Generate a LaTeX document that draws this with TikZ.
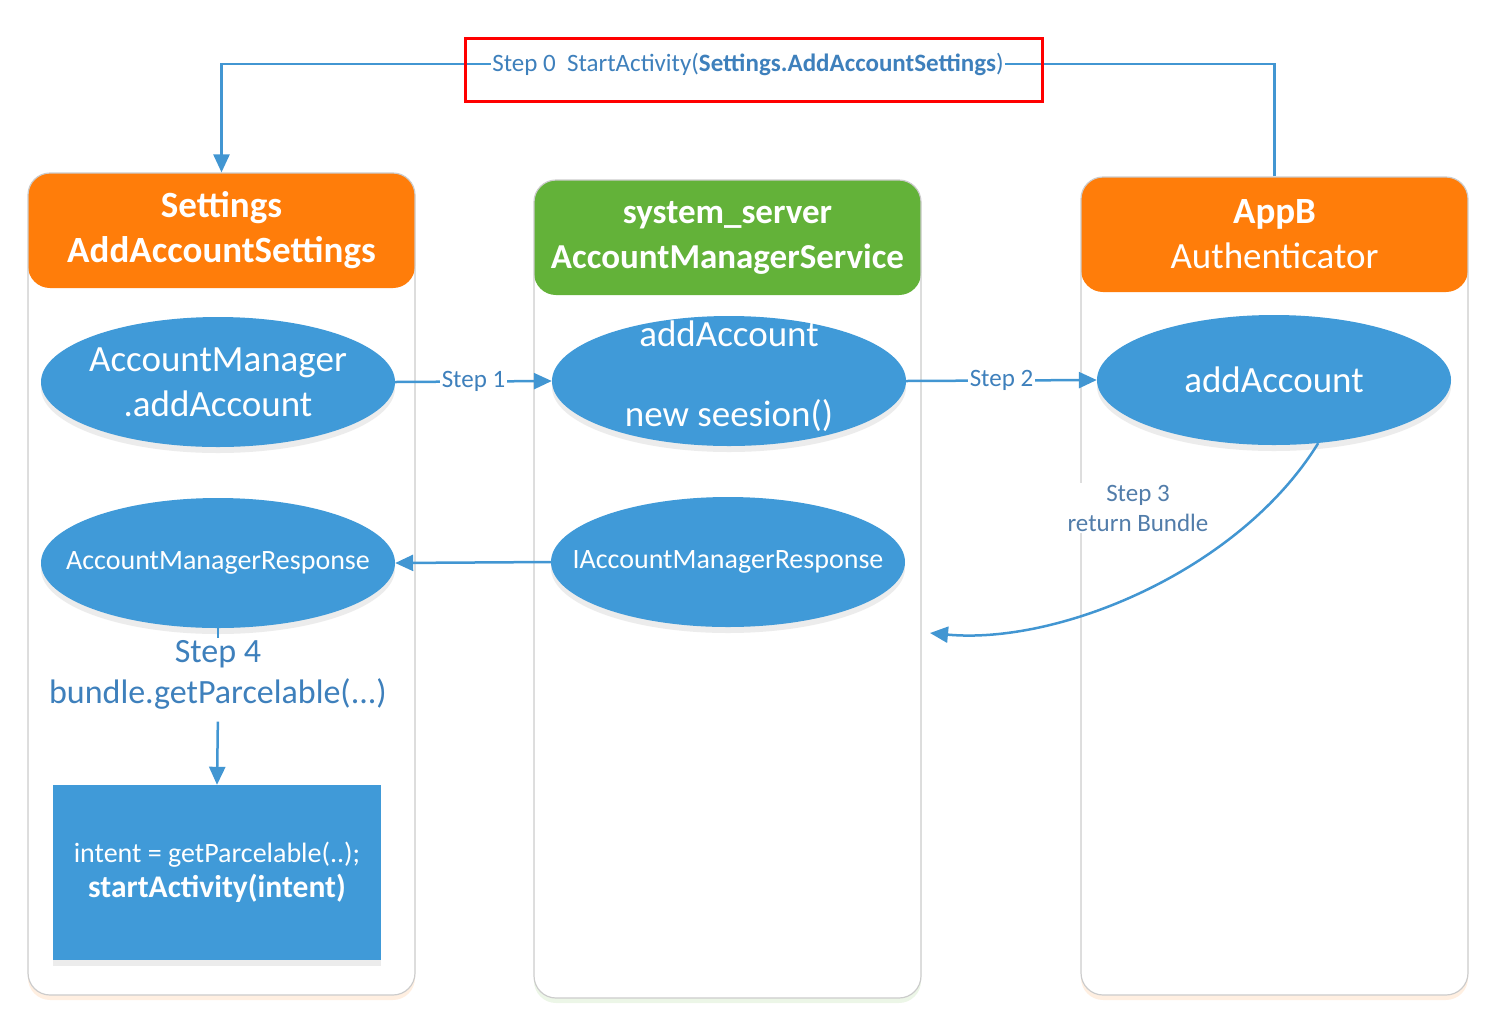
\documentclass[tikz,border=0pt]{standalone}
\usepackage{fontspec}
\setmainfont{Carlito}
\usetikzlibrary{arrows.meta,shapes.geometric,shadows}
\definecolor{hdrorange}{RGB}{255,125,10}
\definecolor{hdrgreen}{RGB}{99,178,57}
\definecolor{ovalblue}{RGB}{64,154,216}
\definecolor{lineblue}{RGB}{66,150,210}
\definecolor{steptext}{RGB}{62,128,188}
\definecolor{notetext}{RGB}{82,125,170}

\begin{document}
\begin{tikzpicture}[x=1pt,y=-1pt,
  panel/.style={draw=gray!40,line width=1.2pt,fill=white,rounded corners=22pt,
    minimum width=387pt,inner sep=0pt,
    drop shadow={shadow xshift=0pt,shadow yshift=-5pt,opacity=.3,fill=#1!40},
    path picture={\fill[#1] (path picture bounding box.north west) rectangle ([yshift=-115pt]path picture bounding box.north east);}},
  headtext/.style={text=white,align=center,font=\fontsize{37pt}{45pt}\selectfont\bfseries},
  oval/.style={ellipse,fill=ovalblue,minimum width=354pt,minimum height=130pt,inner sep=0pt,
    drop shadow={shadow xshift=0pt,shadow yshift=-6pt,opacity=.15,fill=gray}},
  ovaltext/.style={text=white,align=center,inner sep=0pt,font=\fontsize{37pt}{45pt}\selectfont},
  smalltext/.style={ovaltext,font=\fontsize{28pt}{34pt}\selectfont},
  flowline/.style={draw=lineblue,line width=2.5pt},
  flow/.style={flowline,-{Triangle[length=18pt,width=16pt]}},
  steplabel/.style={fill=white,text=steptext,inner sep=1.5pt,font=\fontsize{25pt}{30pt}\selectfont}]
\useasboundingbox (0,0) rectangle (1512,1021);

%Settings
\node[panel=hdrorange,minimum height=822pt] (settingsPanel) at (221.5,584) {};
\node[headtext] (settingsHead) at (221.5,230.5) {Settings\\AddAccountSettings};
\node[oval] (amAdd) at (218,382) {};
\node[ovaltext] (amAddText) at (218,382) {AccountManager\\.addAccount};
\node[oval] (amResp) at (218,563) {};
\node[smalltext] (amRespText) at (218,563) {AccountManagerResponse};
\node[text=steptext,align=center,inner sep=2pt,font=\fontsize{34pt}{41pt}\selectfont] (step4) at (218,675) {Step 4\\bundle.getParcelable(...)};
\node[fill=ovalblue,text=white,align=center,minimum width=328pt,minimum height=175pt,
  font=\fontsize{28pt}{35pt}\selectfont,
  drop shadow={shadow xshift=0pt,shadow yshift=-6pt,opacity=.15,fill=gray}] (intentBox) at (217,872.5)
  {intent = getParcelable(..);\\\fontsize{31.5pt}{35pt}\selectfont\textbf{startActivity(intent)}};

%system_server
\node[panel=hdrgreen,minimum height=818pt] (amsPanel) at (727.5,589) {};
\node[headtext,font=\fontsize{35pt}{45pt}\selectfont\bfseries] (amsHead) at (727.5,237.5) {system\_server\\AccountManagerService};
\node[oval] (amsAdd) at (729,381) {};
\node[ovaltext] (amsAddText) at (729,376) {addAccount\\[35pt]new seesion()};
\node[oval] (amsResp) at (728,562) {};
\node[smalltext] (amsRespText) at (728,562) {IAccountManagerResponse};

%AppB
\node[panel=hdrorange,minimum height=818pt] (appbPanel) at (1274.5,586) {};
\node[headtext] (appbHead) at (1274.5,234.5) {AppB\\\mdseries Authenticator};
\node[oval] (authAdd) at (1274,380) {};
\node[ovaltext] (authAddText) at (1274,380) {addAccount};

%Step 0
\node[steplabel] (step0) at (748,64) {Step 0\ \ StartActivity(\textbf{Settings.AddAccountSettings})};
\draw[flowline] (appbPanel.north) |- (step0.east);
\draw[flow] (step0.west) -| (settingsPanel.north);
\node[draw=red,line width=3pt,minimum width=577pt,minimum height=63pt] (step0Box) at (753.5,69.5) {};

%Step 1 - 4
\draw[flow] (amAdd.east) -- node[steplabel] (step1) {Step 1} (amsAdd.west);
\draw[flow] (amsAdd.east) -- node[steplabel] (step2) {Step 2} (authAdd.west);
\coordinate (step3End) at (930,633);
\draw[flow] (authAdd.-55) .. controls (1240,570) and (1060,645) .. (step3End);
\node[steplabel,text=notetext,align=center] (step3) at (1138,508) {Step 3\\return Bundle};
\draw[flow] (amsResp.west) -- (amResp.east);
\draw[flowline] (amResp.south) -- (step4.north);
\draw[flow,shorten <=10pt] (step4.south) -- (intentBox.north);

\end{tikzpicture}
\end{document}
